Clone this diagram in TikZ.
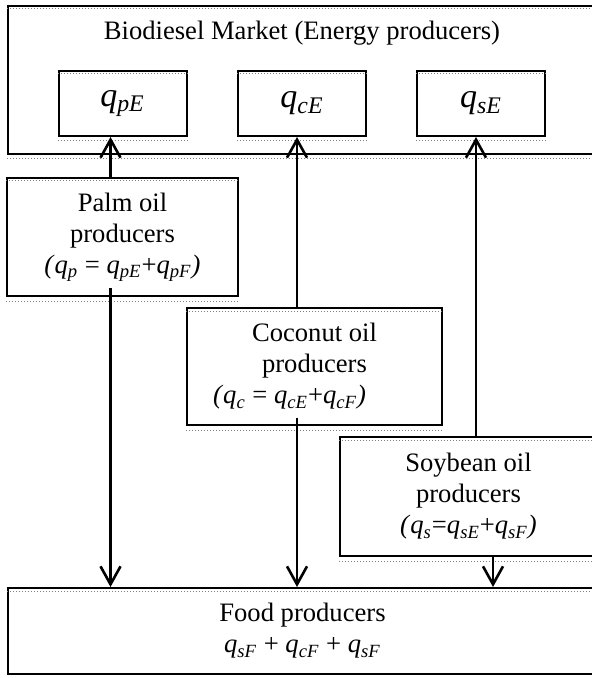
\documentclass[tikz,border=0pt]{standalone}
\usepackage{fontspec}
\setmainfont{Liberation Serif}
\usetikzlibrary{arrows.meta}

\newcommand{\qq}[1]{\textit{q}\textsubscript{\textit{#1}}}

\tikzset{
    box/.style={draw, line width=1pt, inner sep=0pt, align=center, font=\fontsize{13.3}{15.5}\selectfont},
    qbox/.style={box, minimum width=64pt, minimum height=32.5pt, font=\fontsize{17}{20}\selectfont},
    flow/.style={line width=1.3pt, -{Straight Barb[length=9pt, width=10pt, line width=1.3pt]}},
    ghost/.style={gray, densely dotted, line width=0.5pt}
}

\begin{document}
\begin{tikzpicture}[x=0.5pt, y=-0.5pt]
    \useasboundingbox (0,0) rectangle (592,678);
    \clip (0,0) rectangle (592,678);

    % Biodiesel market with the three energy demands
    \node[box, minimum width=294.5pt, minimum height=74pt] (market) at (302.5,80) {};
    \node[font=\fontsize{13.3}{15.5}\selectfont, inner sep=0pt] (title) at (302,33) {Biodiesel Market (Energy producers)};
    \node[qbox] (qpE) at (122.5,103.5) {\qq{pE}};
    \node[qbox] (qcE) at (302,103.5) {\qq{cE}};
    \node[qbox] (qsE) at (481,103.5) {\qq{sE}};

    % Oil producers
    \node[box, minimum width=115.5pt, minimum height=59pt] (palm) at (122.5,237)
        {Palm oil\\producers\\\textit{(}\qq{p} = \qq{pE}+\qq{pF}\textit{)}};
    \node[box, minimum width=127.5pt, minimum height=58.5pt] (coco) at (314.5,366.5)
        {Coconut oil\\producers\\\hspace*{-25pt}\textit{(}\qq{c} = \qq{cE}+\qq{cF}\textit{)}};
    \node[box, minimum width=128.5pt, minimum height=59.5pt] (soy) at (468.5,496.5)
        {Soybean oil\\producers\\\textit{(}\qq{s}=\qq{sE}+\qq{sF}\textit{)}};

    % Food producers
    \node[box, minimum width=294.5pt, minimum height=43pt] (food) at (302.5,631)
        {Food producers\\\qq{sF} + \qq{cF} + \qq{sF}};

    % dotted second border of each box
    \foreach \n in {market,qpE,qcE,qsE,palm,coco,soy,food} {
        \draw[ghost] ([yshift=-2pt]\n.north west) -- ([yshift=-2pt]\n.north east);
        \draw[ghost] ([yshift=-2pt]\n.south west) -- ([yshift=-2pt]\n.south east);
    }

    % Flows to energy
    \draw[flow] ([xshift=-6pt]palm.north) -- ([xshift=-6pt]palm.north |- qpE.south);
    \draw[flow] ([xshift=-8.75pt]coco.north) -- ([xshift=-8.75pt]coco.north |- qcE.south);
    \draw[flow] ([xshift=3.75pt]soy.north) -- ([xshift=3.75pt]soy.north |- qsE.south);

    % Flows to food
    \draw[flow] ([xshift=-6pt, yshift=4.5pt]palm.south) -- ([xshift=-6pt]palm.south |- food.north);
    \draw[flow] ([xshift=-8.75pt, yshift=4pt]coco.south) -- ([xshift=-8.75pt]coco.south |- food.north);
    \draw[flow] ([xshift=12.25pt]soy.south) -- ([xshift=12.25pt]soy.south |- food.north);

\end{tikzpicture}
\end{document}
